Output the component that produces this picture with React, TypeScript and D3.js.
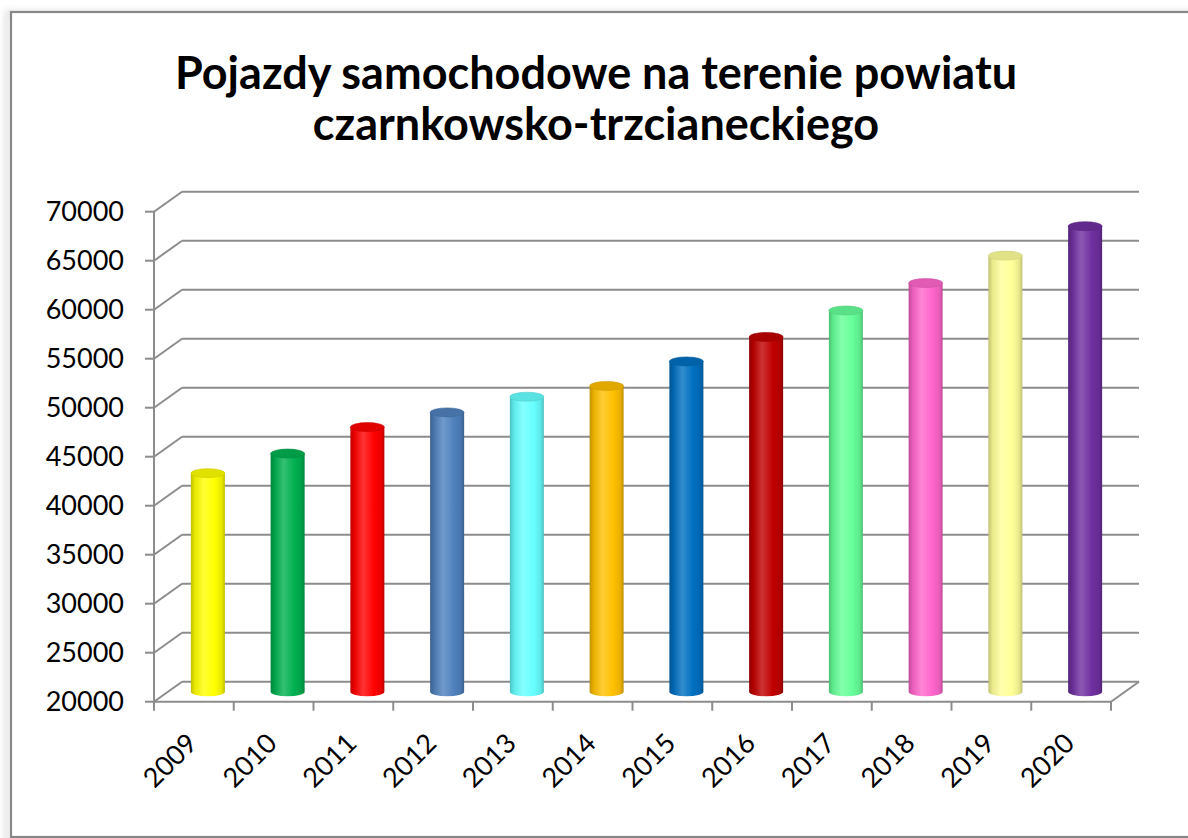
import React from "react";
import * as d3 from "d3";

const years = ["2009","2010","2011","2012","2013","2014","2015","2016","2017","2018","2019","2020"];
const values = [42300, 44300, 47000, 48500, 50100, 51200, 53700, 56200, 58900, 61700, 64500, 67500];
const colors = ["#FFFF00","#00B050","#FF0000","#4F81BD","#66FFFF","#FFC000","#0070C0","#C00000","#66FF99","#FF66CC","#FFFF99","#7030A0"];
const yTicks = [20000,25000,30000,35000,40000,45000,50000,55000,60000,65000,70000];
const titleLines = ["Pojazdy samochodowe na terenie powiatu", "czarnkowsko-trzcianeckiego"];

const W = 1188, H = 838;
const x0 = 154, x1 = 1111;
const yBottom = 701.7, yTop = 211.7;
const DX = 28, DY = -20;

export default function App() {
  const x = d3.scaleBand<string>().domain(years).range([x0, x1]).padding(0);
  const y = d3.scaleLinear().domain([20000, 70000]).range([yBottom, yTop]);
  const grid = "#8c8c8c";
  const rx = 17, ry = 4.5;
  const font = "Lato, 'Open Sans', sans-serif";

  return (
    <svg width={W} height={H} style={{ position: "absolute", left: 0, top: 0, background: "#fff" }}>
      <defs>
        <filter id="sh" x="-10%" y="-10%" width="120%" height="120%">
          <feGaussianBlur stdDeviation="3" />
        </filter>
        {colors.map((c, i) => {
          const base = d3.color(c)!;
          const dark = d3.color(c)!.darker(0.8).formatHex();
          const mid = d3.color(c)!.darker(0.25).formatHex();
          const light = d3.interpolateRgb(c, "#ffffff")(0.2);
          return (
            <linearGradient key={i} id={`g${i}`} x1="0" x2="1" y1="0" y2="0">
              <stop offset="0" stopColor={dark} />
              <stop offset="0.12" stopColor={mid} />
              <stop offset="0.38" stopColor={light} />
              <stop offset="0.7" stopColor={base.formatHex()} />
              <stop offset="0.9" stopColor={mid} />
              <stop offset="1" stopColor={dark} />
            </linearGradient>
          );
        })}
      </defs>
      {/* frame */}
      <rect x={7} y={13} width={1200} height={830} fill="none" stroke="#000" strokeOpacity={0.12} strokeWidth={5} filter="url(#sh)" />
      <rect x={11} y={12} width={1200} height={825} fill="#fff" stroke="#888" strokeWidth={2.2} />

      {/* title */}
      {titleLines.map((t, i) => (
        <text key={i} x={596} y={89 + i * 51} textAnchor="middle" fontFamily={font} fontWeight={700} fontSize={45} fill="#000">
          {t}
        </text>
      ))}

      {/* back wall gridlines + side diagonals */}
      {yTicks.map((t) => (
        <g key={t} stroke={grid} strokeWidth={2} fill="none">
          <line x1={x0} y1={y(t)} x2={x0 + DX} y2={y(t) + DY} />
          <line x1={x0 + DX} y1={y(t) + DY} x2={x1 + DX} y2={y(t) + DY} />
          <line x1={x0 - 9} y1={y(t)} x2={x0} y2={y(t)} />
        </g>
      ))}
      {/* front axis */}
      <line x1={x0} y1={yTop} x2={x0} y2={yBottom} stroke={grid} strokeWidth={2} />
      {/* floor front & right side */}
      <line x1={x0} y1={yBottom} x2={x1} y2={yBottom} stroke={grid} strokeWidth={2} />
      <line x1={x1} y1={yBottom} x2={x1 + DX} y2={yBottom + DY} stroke={grid} strokeWidth={2} />
      {/* category ticks */}
      {d3.range(years.length + 1).map((i) => {
        const xx = x0 + i * x.bandwidth();
        return <line key={i} x1={xx} y1={yBottom} x2={xx} y2={yBottom + 9} stroke={grid} strokeWidth={2} />;
      })}

      {/* y labels */}
      {yTicks.map((t) => (
        <text key={t} x={124} y={y(t)} dy="0.35em" textAnchor="end" fontFamily={font} fontSize={27} fill="#000">
          {t}
        </text>
      ))}

      {/* x labels */}
      {years.map((yr) => {
        const cx = x(yr)! + x.bandwidth() / 2;
        return (
          <text key={yr} transform={`translate(${cx + 5},${745}) rotate(-45)`} textAnchor="end" fontFamily={font} fontSize={27} fill="#000">
            {yr}
          </text>
        );
      })}

      {/* cylinders */}
      {years.map((yr, i) => {
        const cx = x(yr)! + x.bandwidth() / 2 + DX / 2;
        const yb = y(20000) + DY / 2;
        const yt = y(values[i]) + DY / 2;
        const top = d3.color(colors[i])!.darker(0.35).formatHex();
        const path = `M${cx - rx},${yt} L${cx - rx},${yb} A${rx},${ry} 0 0 0 ${cx + rx},${yb} L${cx + rx},${yt} Z`;
        return (
          <g key={yr}>
            <path d={path} fill={`url(#g${i})`} />
            <ellipse cx={cx} cy={yt} rx={rx} ry={ry} fill={top} stroke={d3.color(colors[i])!.darker(0.6).formatHex()} strokeWidth={0.6} />
          </g>
        );
      })}
    </svg>
  );
}
